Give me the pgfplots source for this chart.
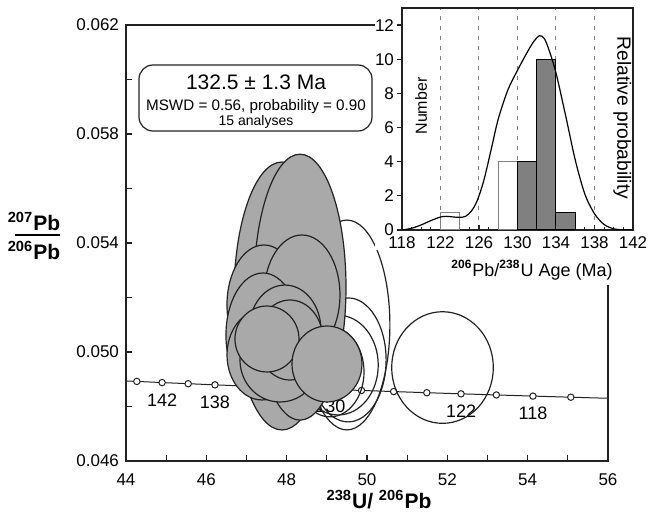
\documentclass[border=0pt]{standalone}
\usepackage{pgfplots}
\pgfplotsset{compat=1.18}
\usepackage{fontspec}
\setmainfont{Liberation Sans}
\setsansfont{Liberation Sans}

\definecolor{ellgray}{HTML}{A9A9A9}
\definecolor{bargray}{HTML}{808080}
\definecolor{axcol}{HTML}{222222}

\begin{document}
\begin{tikzpicture}[font=\fontsize{8.5}{10}\selectfont]
\useasboundingbox (-63pt,-27pt) rectangle (261.5pt,230.5pt);

% main Tera-Wasserburg diagram
\begin{axis}[
  at={(0,0)}, anchor=south west,
  scale only axis, width=241pt, height=218pt,
  xmin=44, xmax=56, ymin=0.046, ymax=0.062,
  xtick={44,46,...,56}, minor xtick={45,47,...,55},
  ytick={0.046,0.050,0.054,0.058,0.062},
  minor ytick={0.048,0.052,0.056,0.060},
  tick pos=left, tick align=inside,
  major tick length=3pt, minor tick length=3pt,
  scaled y ticks=false,
  yticklabel style={/pgf/number format/.cd,fixed,fixed zerofill,precision=3},
  xticklabel style={yshift=-3pt},
  /pgf/number format/assume math mode=true,
  axis line style={axcol,line width=0.6pt},
  every tick/.style={axcol,line width=0.6pt},
  clip marker paths=true,
]
% concordia
\addplot[axcol,line width=0.5pt] coordinates {
 (44,0.048937) (44.269,0.048920) (44.899,0.048878) (45.548,0.048837)
 (46.215,0.048795) (46.902,0.048754) (47.609,0.048713) (48.338,0.048671)
 (49.089,0.048630) (49.864,0.048589) (50.664,0.048548) (51.489,0.048506)
 (52.341,0.048465) (53.221,0.048424) (54.132,0.048382) (55.074,0.048341)
 (56,0.048302)};
\addplot[only marks,mark=*,mark size=1.6pt,mark options={fill=white,draw=axcol,line width=0.5pt}] coordinates {
 (44.269,0.048920) (44.899,0.048878) (45.548,0.048837) (46.215,0.048795)
 (46.902,0.048754) (47.609,0.048713) (48.338,0.048671) (49.089,0.048630)
 (49.864,0.048589) (50.664,0.048548) (51.489,0.048506) (52.341,0.048465)
 (53.221,0.048424) (54.132,0.048382) (55.074,0.048341)};
\begin{scope}[every node/.style={anchor=north,yshift=-2pt,font=\fontsize{9}{10}\selectfont}]
\node at (axis cs:44.899,0.048878) {142};
\node at (axis cs:46.215,0.048795) {138};
\node at (axis cs:49.089,0.048630) {130};
\node at (axis cs:52.341,0.048465) {122};
\node at (axis cs:54.132,0.048382) {118};
\end{scope}

% open ellipses
\begin{scope}[axcol,line width=0.6pt]
\draw (axis cs:49.50,0.050991) ellipse [x radius=1.07, y radius=0.00385];
\draw (axis cs:49.53,0.04971) ellipse [x radius=0.946, y radius=0.002275];
\draw (axis cs:49.28,0.04952) ellipse [x radius=1.0, y radius=0.00183];
\draw (axis cs:49.08,0.04927) ellipse [x radius=0.846, y radius=0.00165];
\draw (axis cs:51.88,0.04943) ellipse [x radius=1.265, y radius=0.002048];
\end{scope}

% filled ellipses
\begin{scope}[draw=axcol,fill=ellgray,line width=0.6pt]
\filldraw (axis cs:47.884,0.052055) ellipse [x radius=1.195, y radius=0.004917];
\filldraw (axis cs:48.332,0.052379) ellipse [x radius=1.145, y radius=0.00488];
\filldraw (axis cs:47.435,0.051725) ellipse [x radius=0.921, y radius=0.002202];
\filldraw (axis cs:48.381,0.052092) ellipse [x radius=0.946, y radius=0.002202];
\filldraw (axis cs:47.41,0.050624) ellipse [x radius=0.921, y radius=0.002275];
\filldraw (axis cs:47.386,0.04989) ellipse [x radius=0.871, y radius=0.00165];
\filldraw (axis cs:47.958,0.050807) ellipse [x radius=0.896, y radius=0.00165];
\filldraw (axis cs:47.834,0.049706) ellipse [x radius=0.996, y radius=0.00154];
\filldraw (axis cs:48.083,0.05044) ellipse [x radius=0.822, y radius=0.001468];
\filldraw (axis cs:47.51,0.050477) ellipse [x radius=0.797, y radius=0.00121];
\filldraw (axis cs:49.004,0.04956) ellipse [x radius=0.871, y radius=0.001394];
\end{scope}
\end{axis}

% background of the inset
\fill[white] (124.5pt,105.5pt) rectangle (261.5pt,230.5pt);
\fill[white] (157pt,88pt) rectangle (261.5pt,105.5pt);

% result box
\draw[axcol,line width=0.6pt,rounded corners=7pt] (6.5pt,165pt) rectangle (123pt,198pt);
\node at (65pt,189.5pt) {\fontsize{10.5}{12}\selectfont 132.5 ± 1.3 Ma};
\node at (65pt,177pt) {\fontsize{7.6}{9}\selectfont MSWD = 0.56, probability = 0.90};
\node at (65pt,169.5pt) {\fontsize{7}{8}\selectfont 15 analyses};

% axis labels of the main plot
\node[font=\bfseries\fontsize{10.5}{12}\selectfont] at (-46pt,120pt) {\textsuperscript{207}Pb};
\draw[black,line width=0.8pt] (-55.5pt,113pt) -- (-33pt,113pt);
\node[font=\bfseries\fontsize{10.5}{12}\selectfont] at (-46pt,105.5pt) {\textsuperscript{206}Pb};
\node[font=\bfseries\fontsize{10.5}{12}\selectfont] at (126.5pt,-19.5pt) {\textsuperscript{238}U/ \textsuperscript{206}Pb};

% inset histogram
\begin{axis}[
  at={(138pt,115.5pt)}, anchor=south west,
  scale only axis, width=115.5pt, height=111pt,
  xmin=118, xmax=142, ymin=0, ymax=13,
  xtick={118,122,...,142}, minor xtick={119,...,141},
  ytick={0,2,...,12},
  tick pos=left,
  xtick align=inside, ytick align=outside,
  major tick length=2.5pt, minor tick length=1.5pt,
  yticklabel style={xshift=2pt},
  /pgf/number format/assume math mode=true,
  xmajorgrids,
  grid style={gray,dash pattern=on 2pt off 3pt,line width=0.5pt},
  axis line style={axcol,line width=0.6pt},
  every tick/.style={axcol,line width=0.6pt},
]
\addplot[ybar,bar width=2,bar shift=0pt,fill=white,draw=gray,line width=0.5pt] coordinates {(123,1) (129,4)};
\addplot[ybar,bar width=2,bar shift=0pt,fill=bargray,draw=black,line width=0.5pt] coordinates {(131,4) (133,10) (135,1)};
\addplot[black,smooth,line width=0.6pt] coordinates {
 (118,0) (119,0.1) (120,0.3) (121,0.55) (122,0.76) (122.6,0.8) (123.2,0.77)
 (124,0.74) (124.6,0.8) (125.2,1.1) (125.8,1.7) (126.5,2.9) (127.3,4.8)
 (128,6.5) (129,8.2) (130,9.35) (131,10.4) (131.7,11.05) (132.3,11.38)
 (132.8,11.2) (133.3,10.5) (134,9.2) (135,6.7) (136,4.1) (137,2.1)
 (138,0.95) (139,0.32) (140,0.07) (141,0.01) (142,0)};
\node[rotate=90,font=\fontsize{8}{9}\selectfont] at (axis cs:120.0,7.26) {Number};
\node[rotate=-90,font=\fontsize{9.6}{11}\selectfont] at (axis cs:140.9,6.56) {Relative probability};
\end{axis}
\node at (203pt,95.5pt) {\fontsize{9}{10}\selectfont\textsuperscript{\bfseries 206}Pb/\textsuperscript{\bfseries 238}U Age (Ma)};
\end{tikzpicture}
\end{document}
